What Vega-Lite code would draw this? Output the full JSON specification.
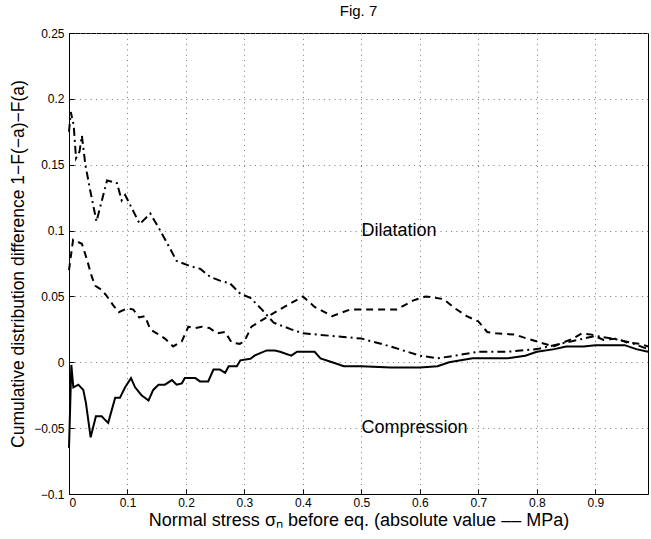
{
  "$schema": "https://vega.github.io/schema/vega-lite/v6.json",
  "width": 579,
  "height": 461,
  "autosize": "none",
  "padding": {"left": 69, "top": 33, "right": 3, "bottom": 45},
  "background": "white",
  "title": {"text": "Fig. 7", "fontSize": 15, "font": "Liberation Sans", "fontWeight": "normal", "color": "black", "offset": 8},
  "config": {
    "view": {"stroke": "black", "strokeWidth": 1},
    "axis": {"labelFont": "Liberation Sans", "titleFont": "Liberation Sans", "labelFontSize": 12, "titleFontSize": 18, "titleFontWeight": "normal", "labelColor": "black", "titleColor": "black", "domainColor": "black", "tickColor": "black", "gridColor": "#777", "gridDash": [1, 4.3], "gridWidth": 1}
  },
  "datasets": {
    "solid": [
      {"x": 0, "y": -0.065}, {"x": 0.004, "y": -0.002}, {"x": 0.0074, "y": -0.019}, {"x": 0.016, "y": -0.017}, {"x": 0.0245, "y": -0.021}, {"x": 0.029, "y": -0.031}, {"x": 0.037, "y": -0.057}, {"x": 0.046, "y": -0.041}, {"x": 0.056, "y": -0.041}, {"x": 0.06, "y": -0.043}, {"x": 0.067, "y": -0.046}, {"x": 0.079, "y": -0.027}, {"x": 0.087, "y": -0.027}, {"x": 0.096, "y": -0.019}, {"x": 0.106, "y": -0.012}, {"x": 0.113, "y": -0.019}, {"x": 0.124, "y": -0.025}, {"x": 0.136, "y": -0.029}, {"x": 0.144, "y": -0.021}, {"x": 0.153, "y": -0.017}, {"x": 0.164, "y": -0.017}, {"x": 0.176, "y": -0.0135}, {"x": 0.184, "y": -0.017}, {"x": 0.193, "y": -0.016}, {"x": 0.198, "y": -0.012}, {"x": 0.216, "y": -0.012}, {"x": 0.224, "y": -0.0145}, {"x": 0.238, "y": -0.0145}, {"x": 0.247, "y": -0.0055}, {"x": 0.258, "y": -0.0055}, {"x": 0.267, "y": -0.008}, {"x": 0.273, "y": -0.003}, {"x": 0.287, "y": -0.003}, {"x": 0.293, "y": 0.0015}, {"x": 0.31, "y": 0.0027}, {"x": 0.318, "y": 0.0052}, {"x": 0.327, "y": 0.007}, {"x": 0.338, "y": 0.009}, {"x": 0.352, "y": 0.009}, {"x": 0.361, "y": 0.008}, {"x": 0.38, "y": 0.005}, {"x": 0.39, "y": 0.008}, {"x": 0.42, "y": 0.008}, {"x": 0.43, "y": 0.003}, {"x": 0.45, "y": 0.0}, {"x": 0.47, "y": -0.003}, {"x": 0.5, "y": -0.003}, {"x": 0.55, "y": -0.004}, {"x": 0.6, "y": -0.004}, {"x": 0.63, "y": -0.003}, {"x": 0.65, "y": 0.0}, {"x": 0.69, "y": 0.003}, {"x": 0.75, "y": 0.003}, {"x": 0.78, "y": 0.005}, {"x": 0.8, "y": 0.008}, {"x": 0.83, "y": 0.01}, {"x": 0.85, "y": 0.012}, {"x": 0.88, "y": 0.012}, {"x": 0.9, "y": 0.013}, {"x": 0.95, "y": 0.013}, {"x": 0.97, "y": 0.01}, {"x": 0.99, "y": 0.008}
    ],
    "dashed": [
      {"x": 0, "y": 0.07}, {"x": 0.007, "y": 0.093}, {"x": 0.022, "y": 0.09}, {"x": 0.03, "y": 0.079}, {"x": 0.039, "y": 0.065}, {"x": 0.045, "y": 0.058}, {"x": 0.056, "y": 0.055}, {"x": 0.065, "y": 0.05}, {"x": 0.076, "y": 0.043}, {"x": 0.085, "y": 0.038}, {"x": 0.1, "y": 0.041}, {"x": 0.11, "y": 0.04}, {"x": 0.12, "y": 0.034}, {"x": 0.13, "y": 0.035}, {"x": 0.139, "y": 0.025}, {"x": 0.15, "y": 0.022}, {"x": 0.164, "y": 0.018}, {"x": 0.178, "y": 0.012}, {"x": 0.193, "y": 0.016}, {"x": 0.204, "y": 0.027}, {"x": 0.216, "y": 0.026}, {"x": 0.227, "y": 0.027}, {"x": 0.24, "y": 0.026}, {"x": 0.253, "y": 0.022}, {"x": 0.267, "y": 0.023}, {"x": 0.278, "y": 0.015}, {"x": 0.292, "y": 0.014}, {"x": 0.3, "y": 0.016}, {"x": 0.312, "y": 0.027}, {"x": 0.33, "y": 0.032}, {"x": 0.36, "y": 0.04}, {"x": 0.38, "y": 0.045}, {"x": 0.4, "y": 0.05}, {"x": 0.42, "y": 0.042}, {"x": 0.45, "y": 0.035}, {"x": 0.48, "y": 0.04}, {"x": 0.52, "y": 0.04}, {"x": 0.56, "y": 0.04}, {"x": 0.589, "y": 0.047}, {"x": 0.61, "y": 0.05}, {"x": 0.64, "y": 0.048}, {"x": 0.66, "y": 0.041}, {"x": 0.68, "y": 0.035}, {"x": 0.7, "y": 0.031}, {"x": 0.715, "y": 0.023}, {"x": 0.73, "y": 0.022}, {"x": 0.763, "y": 0.021}, {"x": 0.783, "y": 0.018}, {"x": 0.806, "y": 0.015}, {"x": 0.828, "y": 0.012}, {"x": 0.845, "y": 0.015}, {"x": 0.862, "y": 0.018}, {"x": 0.877, "y": 0.022}, {"x": 0.894, "y": 0.021}, {"x": 0.914, "y": 0.017}, {"x": 0.937, "y": 0.018}, {"x": 0.954, "y": 0.015}, {"x": 0.977, "y": 0.014}, {"x": 0.99, "y": 0.012}
    ],
    "dashdot": [
      {"x": 0, "y": 0.175}, {"x": 0.003, "y": 0.19}, {"x": 0.008, "y": 0.18}, {"x": 0.012, "y": 0.155}, {"x": 0.018, "y": 0.16}, {"x": 0.022, "y": 0.172}, {"x": 0.028, "y": 0.15}, {"x": 0.036, "y": 0.131}, {"x": 0.047, "y": 0.107}, {"x": 0.065, "y": 0.138}, {"x": 0.082, "y": 0.136}, {"x": 0.09, "y": 0.123}, {"x": 0.096, "y": 0.127}, {"x": 0.121, "y": 0.105}, {"x": 0.139, "y": 0.113}, {"x": 0.156, "y": 0.1}, {"x": 0.184, "y": 0.077}, {"x": 0.207, "y": 0.073}, {"x": 0.224, "y": 0.071}, {"x": 0.241, "y": 0.065}, {"x": 0.258, "y": 0.062}, {"x": 0.275, "y": 0.06}, {"x": 0.293, "y": 0.052}, {"x": 0.31, "y": 0.049}, {"x": 0.33, "y": 0.04}, {"x": 0.35, "y": 0.03}, {"x": 0.38, "y": 0.025}, {"x": 0.4, "y": 0.022}, {"x": 0.45, "y": 0.02}, {"x": 0.5, "y": 0.018}, {"x": 0.55, "y": 0.012}, {"x": 0.6, "y": 0.005}, {"x": 0.63, "y": 0.003}, {"x": 0.66, "y": 0.005}, {"x": 0.7, "y": 0.008}, {"x": 0.75, "y": 0.008}, {"x": 0.8, "y": 0.01}, {"x": 0.85, "y": 0.015}, {"x": 0.9, "y": 0.02}, {"x": 0.93, "y": 0.018}, {"x": 0.96, "y": 0.015}, {"x": 0.99, "y": 0.01}
    ],
    "labels": [
      {"x": 0.5, "y": 0.1, "t": "Dilatation"},
      {"x": 0.5, "y": -0.05, "t": "Compression"}
    ]
  },
  "encoding": {
    "x": {"field": "x", "type": "quantitative", "scale": {"domain": [0, 0.99], "nice": false, "zero": false},
      "axis": {"values": [0, 0.1, 0.2, 0.3, 0.4, 0.5, 0.6, 0.7, 0.8, 0.9], "format": "~g", "title": "Normal stress σₙ before eq. (absolute value –– MPa)", "tickSize": -5, "labelPadding": 8, "titlePadding": 3, "grid": true}},
    "y": {"field": "y", "type": "quantitative", "scale": {"domain": [-0.1, 0.25], "nice": false, "zero": false},
      "axis": {"values": [-0.1, -0.05, 0, 0.05, 0.1, 0.15, 0.2, 0.25], "format": "~g", "title": "Cumulative distribution difference 1−F(−a)−F(a)", "titleFontSize": 17.5, "tickSize": -5, "labelPadding": 10, "titlePadding": 6, "grid": true}}
  },
  "layer": [
    {"data": {"name": "solid"}, "mark": {"type": "line", "color": "black", "strokeWidth": 2}},
    {"data": {"name": "dashed"}, "mark": {"type": "line", "color": "black", "strokeWidth": 2, "strokeDash": [7, 5]}},
    {"data": {"name": "dashdot"}, "mark": {"type": "line", "color": "black", "strokeWidth": 2, "strokeDash": [8, 4, 2, 4]}},
    {"data": {"values": [{}]}, "mark": {"type": "rule", "color": "black", "strokeWidth": 2}, "encoding": {"x": {"datum": 0}, "x2": {"datum": 0.99}, "y": {"datum": 0}}},
    {"data": {"name": "labels"}, "mark": {"type": "text", "align": "left", "baseline": "middle", "fontSize": 18, "font": "Liberation Sans", "color": "black"}, "encoding": {"text": {"field": "t"}}}
  ]
}
